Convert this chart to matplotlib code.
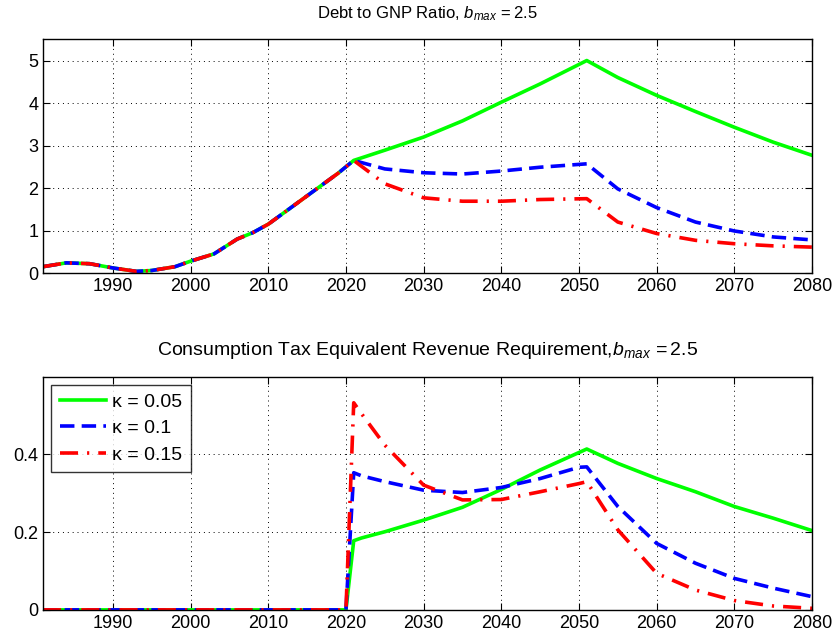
import matplotlib
matplotlib.use("Agg")
import matplotlib.pyplot as plt

plt.rcParams['font.family'] = ['Liberation Sans', 'DejaVu Sans']
plt.rcParams['mathtext.fontset'] = 'custom'
plt.rcParams['mathtext.rm'] = 'Liberation Sans'
plt.rcParams['mathtext.it'] = 'Liberation Sans:italic'

# ---- data ----
hist_years = [1981, 1984, 1987, 1990, 1993, 1995, 1998, 2000, 2003, 2006, 2008, 2010, 2013, 2016, 2019, 2021]
hist_debt = [0.15, 0.24, 0.22, 0.12, 0.04, 0.06, 0.15, 0.28, 0.45, 0.80, 0.95, 1.15, 1.55, 1.95, 2.35, 2.65]

proj_years = [2025, 2030, 2035, 2040, 2045, 2051, 2055, 2060, 2065, 2070, 2075, 2080]
debt_k005 = [2.89, 3.20, 3.58, 4.02, 4.45, 5.00, 4.60, 4.18, 3.80, 3.43, 3.08, 2.77]
debt_k010 = [2.45, 2.36, 2.33, 2.40, 2.49, 2.57, 1.98, 1.54, 1.20, 0.99, 0.85, 0.78]
debt_k015 = [2.10, 1.77, 1.69, 1.69, 1.73, 1.75, 1.20, 0.93, 0.77, 0.69, 0.64, 0.61]

tax_zero_years = [1981, 2020]
tax_zero = [0.0, 0.0]
tax_years = [2021, 2022, 2025, 2030, 2035, 2040, 2045, 2050, 2051, 2055, 2060, 2065, 2070, 2075, 2080]
tax_k005 = [0.178, 0.185, 0.201, 0.231, 0.264, 0.310, 0.360, 0.405, 0.414, 0.377, 0.338, 0.304, 0.266, 0.236, 0.204]
tax_k010 = [0.353, 0.345, 0.330, 0.308, 0.302, 0.315, 0.338, 0.367, 0.368, 0.266, 0.171, 0.120, 0.081, 0.056, 0.034]
tax_k015 = [0.533, 0.505, 0.424, 0.321, 0.283, 0.284, 0.304, 0.325, 0.330, 0.206, 0.094, 0.051, 0.024, 0.010, 0.004]

labels = ['\u03ba = 0.05', '\u03ba = 0.1', '\u03ba = 0.15']
xticks = [1990, 2000, 2010, 2020, 2030, 2040, 2050, 2060, 2070, 2080]

colors = ['#00ff00', '#0000ff', '#ff0000']
styles = ['-', (0, (4, 2)), (0, (5, 2.5, 0.6, 2.5))]
lw = 2.6

fig = plt.figure(figsize=(8.35, 6.44), dpi=100)
ax1 = fig.add_axes([0.0515, 0.576, 0.921, 0.363])
ax2 = fig.add_axes([0.0515, 0.053, 0.921, 0.362])

# top panel
for d, c, s in zip([debt_k005, debt_k010, debt_k015], colors, styles):
    ax1.plot(hist_years + proj_years, hist_debt + d, color=c, linestyle=s, lw=lw)
ax1.set_xlim(1981, 2080)
ax1.set_ylim(0, 5.5)
ax1.set_yticks([0, 1, 2, 3, 4, 5])
ax1.set_title('Debt to GNP Ratio, $\\mathit{b}_{\\mathit{max}}\\,\\mathit{= 2.5}$', fontsize=12, pad=15)

# bottom panel
for d, c, s, lab in zip([tax_k005, tax_k010, tax_k015], colors, styles, labels):
    ax2.plot(tax_zero_years + tax_years, tax_zero + d, color=c, linestyle=s, lw=lw, label=lab)
ax2.set_xlim(1981, 2080)
ax2.set_ylim(0, 0.6)
ax2.set_yticks([0, 0.2, 0.4])
ax2.set_yticklabels(['0', '0.2', '0.4'])
ax2.set_title('Consumption Tax Equivalent Revenue Requirement,$\\mathit{b}_{\\mathit{max}}\\,\\mathit{= 2.5}$',
              fontsize=14, pad=16)
leg = ax2.legend(loc='upper left', fontsize=14, frameon=True, fancybox=False,
                 edgecolor='black', handlelength=2.4, borderaxespad=0.4,
                 labelspacing=0.45, handletextpad=0.3, borderpad=0.45)
leg.get_frame().set_linewidth(1.0)

for ax in (ax1, ax2):
    ax.set_xticks(xticks)
    ax.grid(True, color='black', linestyle=(0, (1, 4)), linewidth=0.7)
    ax.tick_params(direction='in', top=True, right=True, labelsize=13, length=5, width=0.8)
    for sp in ax.spines.values():
        sp.set_linewidth(1.0)

fig.savefig('out.png', dpi=100)
